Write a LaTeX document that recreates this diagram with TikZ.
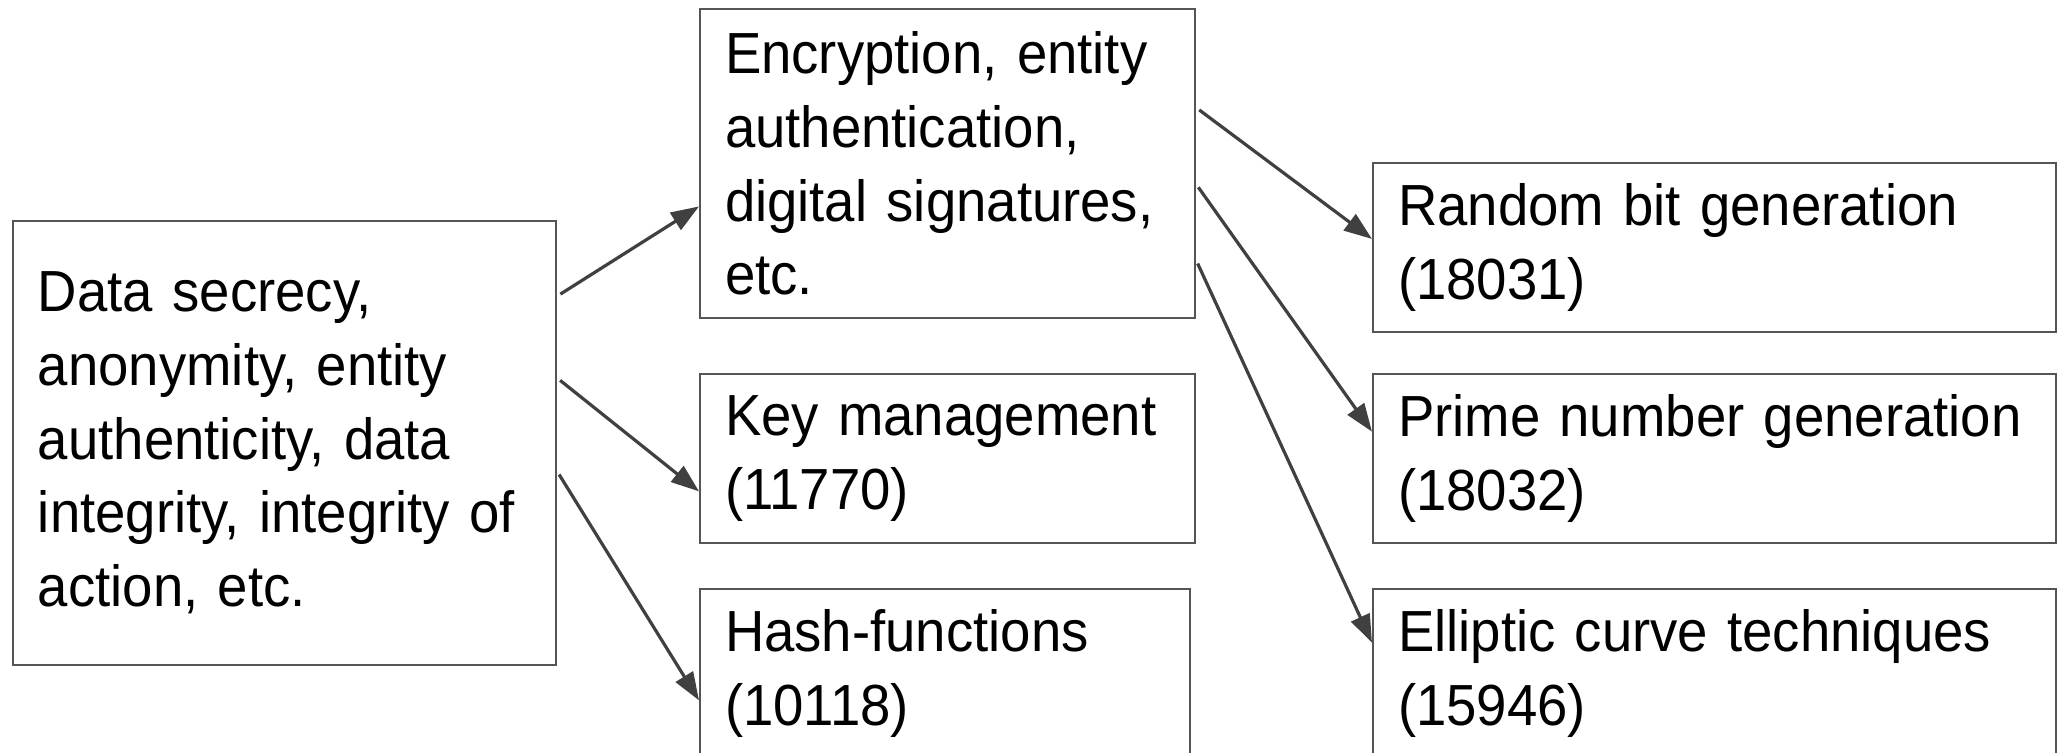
\documentclass[tikz,border=0pt]{standalone}
\usepackage{fontspec}
\setmainfont[FakeStretch=0.94]{Liberation Sans}
\usetikzlibrary{arrows.meta,calc}

\definecolor{boxgray}{HTML}{555555}
\definecolor{arrowgray}{HTML}{404040}

\tikzset{
  topic/.style={draw=boxgray, line width=1pt, rectangle, align=left,
    inner xsep=12.5pt, inner ysep=0pt, font=\fontsize{29}{36.85}\selectfont},
  link/.style={draw=arrowgray, line width=1.6pt, shorten <=2pt,
    -{Triangle[length=14pt,width=10pt,fill=arrowgray]}}
}

\begin{document}
\begin{tikzpicture}[x=0.5pt,y=-0.5pt]
\useasboundingbox (0,0) rectangle (2063,753);
\clip (0,0) rectangle (2063,753);

% goals
\node[topic, text width=246.5pt, minimum width=271.5pt, minimum height=222pt] (data) at (284.5,443)
  {Data secrecy,\\ anonymity, entity\\ authenticity, data\\ integrity, integrity of\\ action, etc.};

% mechanisms
\node[topic, text width=222.5pt, minimum width=247.5pt, minimum height=154.5pt] (enc) at (947.5,163.5)
  {Encryption, entity\\ authentication,\\ digital signatures,\\ etc.};
\node[topic, text width=222.5pt, minimum width=247.5pt, minimum height=84.5pt] (key) at (947.5,458.5)
  {Key management\\ (11770)};
\node[topic, text width=220pt, minimum width=245pt, minimum height=84.5pt] (hash) at (945,673.5)
  {Hash-functions\\ (10118)};

% techniques
\node[topic, text width=316.5pt, minimum width=341.5pt, minimum height=84.5pt] (rand) at (1714.5,247.5)
  {Random bit generation\\ (18031)};
\node[topic, text width=316.5pt, minimum width=341.5pt, minimum height=84.5pt] (prime) at (1714.5,458.5)
  {Prime number generation\\ (18032)};
\node[topic, text width=316.5pt, minimum width=341.5pt, minimum height=84.5pt] (ell) at (1714.5,673.5)
  {Elliptic curve techniques\\ (15946)};

\draw[link] ($(data.north east)!0.171!(data.south east)$) -- ($(enc.north west)!0.638!(enc.south west)$);
\draw[link] ($(data.north east)!0.354!(data.south east)$) -- ($(key.north west)!0.692!(key.south west)$);
\draw[link] ($(data.north east)!0.563!(data.south east)$) -- ($(hash.north west)!0.657!(hash.south west)$);

\draw[link] ($(enc.north east)!0.32!(enc.south east)$) -- ($(rand.north west)!0.45!(rand.south west)$);
\draw[link] ($(enc.north east)!0.566!(enc.south east)$) -- ($(prime.north west)!0.343!(prime.south west)$);
\draw[link] ($(enc.north east)!0.81!(enc.south east)$) -- ($(ell.north west)!0.32!(ell.south west)$);

\end{tikzpicture}
\end{document}
